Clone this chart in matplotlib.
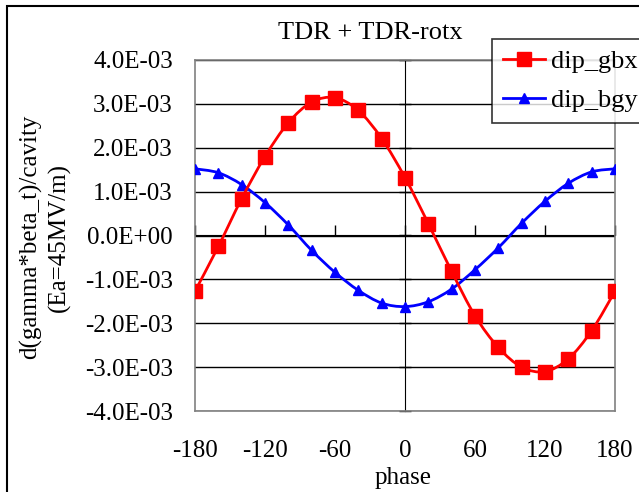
import numpy as np
import matplotlib
matplotlib.use("Agg")
import matplotlib.pyplot as plt
from matplotlib.patches import Rectangle, PathPatch
from matplotlib.path import Path
from matplotlib.lines import Line2D

# data
phase = [-180, -160, -140, -120, -100, -80, -60, -40, -20, 0,
         20, 40, 60, 80, 100, 120, 140, 160, 180]
dip_gbx = [-1.27e-3, -0.25e-3, 0.84e-3, 1.80e-3, 2.57e-3, 3.04e-3, 3.14e-3,
           2.85e-3, 2.21e-3, 1.32e-3, 0.27e-3, -0.82e-3, -1.83e-3, -2.55e-3,
           -3.00e-3, -3.10e-3, -2.81e-3, -2.17e-3, -1.27e-3]
dip_bgy = [1.52e-3, 1.43e-3, 1.16e-3, 0.75e-3, 0.24e-3, -0.34e-3, -0.84e-3,
           -1.25e-3, -1.54e-3, -1.62e-3, -1.51e-3, -1.22e-3, -0.78e-3,
           -0.28e-3, 0.28e-3, 0.78e-3, 1.19e-3, 1.45e-3, 1.52e-3]
x_ticks = [-180, -120, -60, 0, 60, 120, 180]
y_ticks = [-4e-3, -3e-3, -2e-3, -1e-3, 0.0, 1e-3, 2e-3, 3e-3, 4e-3]
y_tick_labels = ["-4.0E-03", "-3.0E-03", "-2.0E-03", "-1.0E-03", "0.0E+00",
                 "1.0E-03", "2.0E-03", "3.0E-03", "4.0E-03"]

plt.rcParams['font.family'] = ['Liberation Serif', 'DejaVu Serif']
plt.rcParams['axes.unicode_minus'] = False


def smooth_path(xs, ys):
    # Excel-like smoothed line: cubic Bezier segments through the points
    p = np.column_stack([xs, ys]).astype(float)
    p = np.vstack([p[0], p, p[-1]])
    verts = [p[1]]
    codes = [Path.MOVETO]
    for i in range(1, len(p) - 2):
        c1 = p[i] + (p[i + 1] - p[i - 1]) / 6
        c2 = p[i + 1] - (p[i + 2] - p[i]) / 6
        verts += [c1, c2, p[i + 1]]
        codes += [Path.CURVE4] * 3
    return Path(verts, codes)


W, H = 639, 492
fig = plt.figure(figsize=(W / 100, H / 100), dpi=100)
ax = fig.add_axes([195 / W, 1 - 411 / H, 420 / W, 351 / H])

ax.set_xlim(-180, 180)
ax.set_ylim(-4e-3, 4e-3)
ax.set_xticks(x_ticks)
ax.set_yticks(y_ticks)
ax.set_yticklabels(y_tick_labels)
ax.tick_params(axis='both', length=0, labelsize=18)
ax.tick_params(axis='x', pad=21)
ax.tick_params(axis='y', pad=16)
ax.grid(axis='y', color='black', linewidth=1)
ax.set_axisbelow(True)
for s in ax.spines.values():
    s.set_color('#808080')
    s.set_linewidth(1.2)

# axes crossing at zero
sx = ax.secondary_xaxis(0.5)
sx.set_xticks(x_ticks)
sx.set_xticklabels([])
sx.tick_params(direction='out', length=7, width=1, color='black')
sy = ax.secondary_yaxis(0.5)
sy.set_yticks(y_ticks)
sy.set_yticklabels([])
sy.tick_params(direction='inout', length=8, width=1, color='black')

series = [(dip_gbx, 'red', 's', 10, 'dip_gbx', 4),
          (dip_bgy, 'blue', '^', 7, 'dip_bgy', 3)]
handles = []
for vals, col, mk, ms, name, z in series:
    ax.add_patch(PathPatch(smooth_path(phase, vals), facecolor='none',
                           edgecolor=col, linewidth=2, zorder=z))
    ax.plot(phase, vals, linestyle='none', marker=mk, markersize=ms,
            color=col, zorder=z)
    handles.append(Line2D([], [], color=col, linewidth=2, marker=mk,
                          markersize=ms, label=name))

fig.text(370 / W, 1 - 33 / H, 'TDR + TDR-rotx', fontsize=19,
         ha='center', va='center')
fig.text(45 / W, 1 - 237 / H, 'd(gamma*beta_t)/cavity\n(Ea=45MV/m)',
         fontsize=18, rotation=90, ha='center', va='center',
         multialignment='center', linespacing=1.3)
fig.text(403 / W, 1 - 478 / H, 'phase', fontsize=18, ha='center',
         va='center')

leg = fig.legend(handles=handles, loc='upper left',
                 bbox_to_anchor=(492 / W, 1 - 39 / H, 160 / W, 0),
                 mode='expand', fontsize=19,
                 frameon=True, fancybox=False, borderpad=0.4,
                 handlelength=1.6, handletextpad=0.25, labelspacing=0.6,
                 borderaxespad=0)
leg.get_frame().set_edgecolor('black')
leg.get_frame().set_linewidth(1.2)

# outer chart frame (cropped on right and bottom)
fig.patches.append(Rectangle((7 / W, -0.2), 1.2, 1.2 - 6 / H,
                             transform=fig.transFigure, fill=False,
                             edgecolor='black', linewidth=1.5))

fig.savefig('out.png', dpi=100)
